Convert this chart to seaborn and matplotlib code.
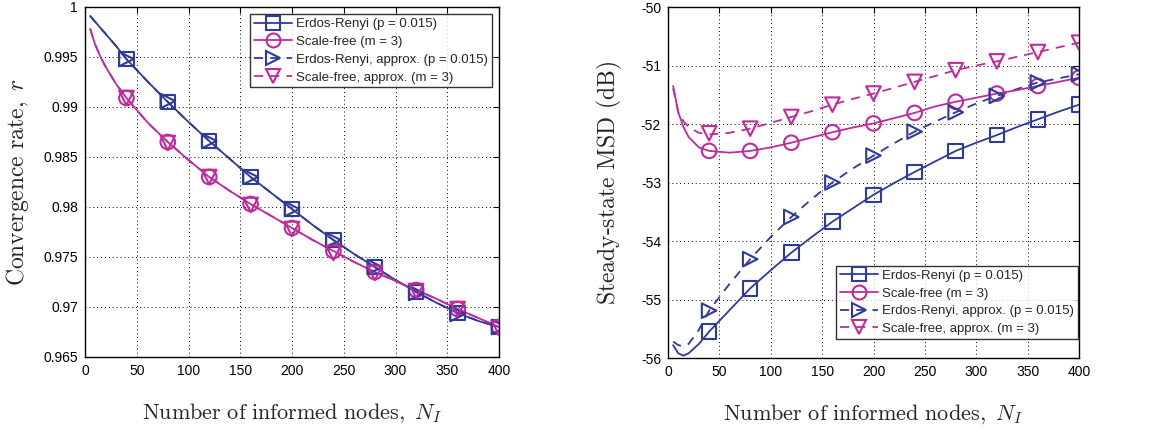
import matplotlib
matplotlib.use("Agg")
import matplotlib.pyplot as plt
import seaborn as sns
import pandas as pd
from matplotlib.lines import Line2D

sns.set_theme(style="white")
plt.rcParams['font.family'] = ['Liberation Sans', 'DejaVu Sans']
plt.rcParams['mathtext.fontset'] = 'cm'

BLUE = "#2e3a9c"
MAGENTA = "#c02a9c"

# marker positions
x_mark = [40, 80, 120, 160, 200, 240, 280, 320, 360, 400]
# line positions (curves start near N_I = 5)
x_line = [5, 10, 15, 20, 30, 40, 60, 80, 100, 120, 140, 160, 180, 200, 220, 240,
          260, 280, 300, 320, 340, 360, 380, 400]

# ---- Left: convergence rate ----
conv_er_line = [0.9991, 0.9985, 0.9979, 0.9973, 0.9961, 0.9948, 0.9926, 0.9905, 0.9885,
                0.9866, 0.9848, 0.9830, 0.9814, 0.9798, 0.9782, 0.9767, 0.9753, 0.9740,
                0.9727, 0.9715, 0.9704, 0.9694, 0.9686, 0.9680]
conv_sf_line = [0.9978, 0.9962, 0.9950, 0.9940, 0.9923, 0.9909, 0.9885, 0.9865, 0.9847,
                0.9830, 0.9816, 0.9803, 0.9791, 0.9779, 0.9767, 0.9756, 0.9745, 0.9735,
                0.9726, 0.9717, 0.9708, 0.9698, 0.9689, 0.9680]
conv_er_apx_line = [0.9991, 0.9985, 0.9979, 0.9973, 0.9961, 0.9948, 0.9926, 0.9905, 0.9885,
                    0.9866, 0.9848, 0.9830, 0.9814, 0.9798, 0.9782, 0.9767, 0.9753, 0.9740,
                    0.9727, 0.9715, 0.9704, 0.9694, 0.9686, 0.9680]
conv_sf_apx_line = [0.9978, 0.9962, 0.9950, 0.9940, 0.9923, 0.9909, 0.9885, 0.9865, 0.9847,
                    0.9830, 0.9816, 0.9803, 0.9791, 0.9779, 0.9767, 0.9756, 0.9745, 0.9735,
                    0.9726, 0.9717, 0.9708, 0.9698, 0.9689, 0.9680]
conv_er_mark = [0.9948, 0.9905, 0.9866, 0.9830, 0.9798, 0.9767, 0.9740, 0.9715, 0.9694, 0.9680]
conv_sf_mark = [0.9909, 0.9865, 0.9830, 0.9803, 0.9779, 0.9756, 0.9735, 0.9717, 0.9698, 0.9680]
conv_er_apx_mark = [0.9948, 0.9906, 0.9866, 0.9830, 0.9798, 0.9767, 0.9740, 0.9714, 0.9693, 0.9680]
conv_sf_apx_mark = [0.9909, 0.9864, 0.9830, 0.9802, 0.9778, 0.9754, 0.9734, 0.9716, 0.9698, 0.9679]

# ---- Right: steady-state MSD ----
msd_er_line = [-55.78, -55.92, -55.96, -55.92, -55.76, -55.55, -55.18, -54.81, -54.50,
               -54.20, -53.93, -53.67, -53.44, -53.21, -53.01, -52.82, -52.64, -52.46,
               -52.32, -52.19, -52.05, -51.92, -51.79, -51.67]
msd_sf_line = [-51.35, -51.80, -52.05, -52.22, -52.40, -52.46, -52.49, -52.46, -52.40,
               -52.32, -52.23, -52.14, -52.06, -51.99, -51.90, -51.81, -51.70, -51.62,
               -51.55, -51.48, -51.42, -51.35, -51.28, -51.21]
msd_er_apx_line = [-55.72, -55.78, -55.80, -55.76, -55.52, -55.19, -54.73, -54.31, -53.93,
                   -53.59, -53.28, -53.00, -52.76, -52.54, -52.33, -52.13, -51.96, -51.80,
                   -51.65, -51.52, -51.40, -51.29, -51.22, -51.15]
msd_sf_apx_line = [-51.39, -51.80, -51.95, -52.05, -52.15, -52.18, -52.15, -52.08, -51.98,
                   -51.88, -51.78, -51.67, -51.57, -51.48, -51.38, -51.28, -51.18, -51.08,
                   -51.00, -50.93, -50.85, -50.77, -50.69, -50.61]
msd_er_mark = [-55.55, -54.81, -54.20, -53.67, -53.21, -52.82, -52.46, -52.19, -51.92, -51.67]
msd_sf_mark = [-52.46, -52.46, -52.32, -52.14, -51.99, -51.81, -51.62, -51.48, -51.35, -51.21]
msd_er_apx_mark = [-55.19, -54.31, -53.59, -53.00, -52.54, -52.13, -51.80, -51.52, -51.29, -51.15]
msd_sf_apx_mark = [-52.16, -52.08, -51.88, -51.67, -51.48, -51.28, -51.08, -50.93, -50.77, -50.61]

labels = ["Erdos-Renyi (p = 0.015)", "Scale-free (m = 3)",
          "Erdos-Renyi, approx. (p = 0.015)", "Scale-free, approx. (m = 3)"]
colors = [BLUE, MAGENTA, BLUE, MAGENTA]
styles = ["-", "-", (0, (5, 4)), (0, (5, 4))]
markers = ["s", "o", ">", "v"]

fig = plt.figure(figsize=(11.56, 4.29), dpi=100)
W, H = 1156, 429
axL = fig.add_axes([85 / W, 1 - 357 / H, (499 - 85) / W, (357 - 7) / H])
axR = fig.add_axes([668 / W, 1 - 358 / H, (1079 - 668) / W, (358 - 7) / H])


def draw(ax, lines, marks):
    for i, (yl, ym) in enumerate(zip(lines, marks)):
        df = pd.DataFrame({"x": x_line, "y": yl})
        sns.lineplot(data=df, x="x", y="y", ax=ax, color=colors[i], linestyle=styles[i],
                     linewidth=1.3, legend=False, zorder=3 + (0 if i < 2 else -1))
        dm = pd.DataFrame({"x": x_mark, "y": ym})
        sns.scatterplot(data=dm, x="x", y="y", ax=ax, marker=markers[i], s=110,
                        facecolors="none", edgecolor=colors[i], linewidth=1.5,
                        legend=False, zorder=4)


draw(axL, [conv_er_line, conv_sf_line, conv_er_apx_line, conv_sf_apx_line],
     [conv_er_mark, conv_sf_mark, conv_er_apx_mark, conv_sf_apx_mark])
draw(axR, [msd_er_line, msd_sf_line, msd_er_apx_line, msd_sf_apx_line],
     [msd_er_mark, msd_sf_mark, msd_er_apx_mark, msd_sf_apx_mark])

handles = [Line2D([0], [0], color=colors[i], linestyle=styles[i], linewidth=1.3,
                  marker=markers[i], markersize=10, markerfacecolor="none",
                  markeredgewidth=1.5) for i in range(4)]

xticks = [0, 50, 100, 150, 200, 250, 300, 350, 400]
yticksL = [0.965, 0.97, 0.975, 0.98, 0.985, 0.99, 0.995, 1.0]
yticklabelsL = ["0.965", "0.97", "0.975", "0.98", "0.985", "0.99", "0.995", "1"]
yticksR = [-56, -55, -54, -53, -52, -51, -50]

for ax in (axL, axR):
    ax.set_xlim(0, 400)
    ax.set_xticks(xticks)
    ax.grid(True, color="black", linestyle=(0, (1, 3)), linewidth=0.7)
    ax.tick_params(direction="in", top=True, right=True, length=4, width=0.8,
                   labelsize=10, colors="black", pad=5)
    for sp in ax.spines.values():
        sp.set_color("black")
        sp.set_linewidth(1.0)
    ax.set_xlabel(r"$\mathrm{Number\ of\ informed\ nodes,}\ N_I$", fontsize=16, labelpad=17)

axL.set_ylim(0.965, 1.0)
axL.set_yticks(yticksL)
axL.set_yticklabels(yticklabelsL)
axL.set_ylabel(r"$\mathrm{Convergence\ rate,}\ r$", fontsize=17, labelpad=9)

axR.set_ylim(-56, -50)
axR.set_yticks(yticksR)
axR.set_yticklabels([str(t) for t in yticksR])
axR.set_ylabel(r"$\text{Steady-state MSD (dB)}$", fontsize=17, labelpad=12)

legkw = dict(fontsize=9.5, frameon=True, fancybox=False, edgecolor="black",
             handlelength=2.9, handletextpad=0.3, labelspacing=0.42,
             borderpad=0.3, borderaxespad=0.0)
legL = axL.legend(handles, labels, loc="upper right", bbox_to_anchor=(0.983, 0.98), **legkw)
legL.get_frame().set_linewidth(1.0)
legR = axR.legend(handles, labels, loc="lower right", bbox_to_anchor=(0.998, 0.054), **legkw)
legR.get_frame().set_linewidth(1.0)

fig.savefig("out.png", dpi=100, facecolor="white")
